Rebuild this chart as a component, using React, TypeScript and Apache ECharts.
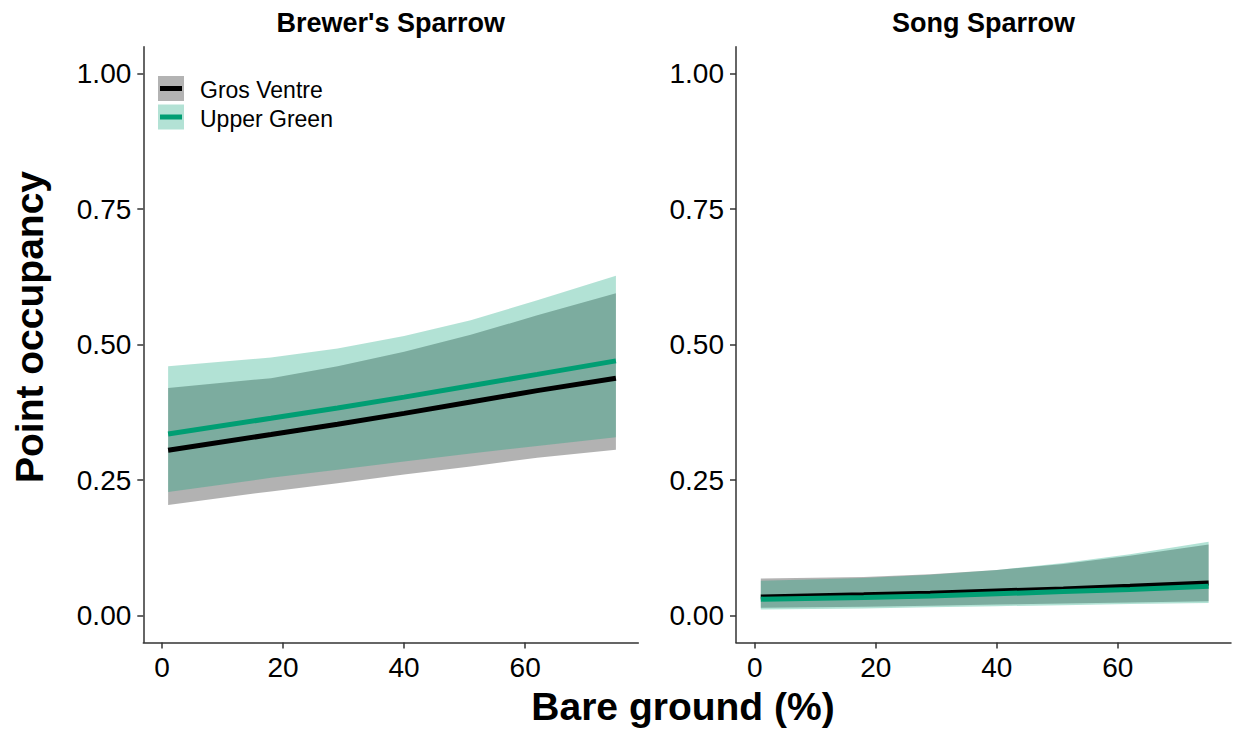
import React, { useEffect, useRef } from "react";
import * as echarts from "echarts";

// Bare ground (%) at which predictions are drawn
const BARE = [1, 18, 29, 40, 51, 62, 75];

// Brewer's Sparrow: predicted point occupancy with 95% intervals
const BRSP_GV_FIT = [0.305, 0.334, 0.353, 0.373, 0.394, 0.415, 0.438];
const BRSP_GV_LO = [0.204, 0.229, 0.244, 0.26, 0.275, 0.291, 0.306];
const BRSP_GV_HI = [0.42, 0.438, 0.46, 0.487, 0.518, 0.554, 0.595];
const BRSP_UG_FIT = [0.335, 0.364, 0.383, 0.403, 0.424, 0.445, 0.47];
const BRSP_UG_LO = [0.228, 0.254, 0.269, 0.284, 0.299, 0.313, 0.329];
const BRSP_UG_HI = [0.46, 0.476, 0.493, 0.516, 0.545, 0.582, 0.627];

// Song Sparrow
const SOSP_GV_FIT = [0.034, 0.038, 0.041, 0.045, 0.049, 0.054, 0.06];
const SOSP_GV_LO = [0.014, 0.016, 0.018, 0.02, 0.022, 0.024, 0.026];
const SOSP_GV_HI = [0.068, 0.071, 0.076, 0.084, 0.095, 0.11, 0.131];
const SOSP_UG_FIT = [0.03, 0.033, 0.036, 0.04, 0.044, 0.048, 0.054];
const SOSP_UG_LO = [0.011, 0.013, 0.015, 0.017, 0.019, 0.021, 0.023];
const SOSP_UG_HI = [0.064, 0.069, 0.075, 0.084, 0.097, 0.113, 0.136];

const X_TICKS = [0, 20, 40, 60];
const Y_TICKS = [0, 0.25, 0.5, 0.75, 1];
const PANELS = ["Brewer's Sparrow", "Song Sparrow"];
const SITES = ["Gros Ventre", "Upper Green"];

const FONT = "'Liberation Sans', Arial, Helvetica, sans-serif";
const GV_FILL = "rgba(0,0,0,0.3)";
const UG_FILL = "rgba(0,158,115,0.3)";
const GV_LINE = "#000000";
const UG_LINE = "#009E73";
const AXIS_COLOR = "#333333";

// Confidence ribbon drawn as one polygon through the axis scales
function band(idx: number, lo: number[], hi: number[], fill: string, z: number) {
  const data = BARE.map((x, i) => [x, lo[i], hi[i]]);
  return {
    type: "custom",
    xAxisIndex: idx,
    yAxisIndex: idx,
    silent: true,
    z,
    data,
    encode: { x: 0, y: [1, 2] },
    renderItem: (params: any, api: any) => {
      if (params.dataIndex !== 0) return null;
      const upper = data.map((d) => api.coord([d[0], d[2]]));
      const lower = data.map((d) => api.coord([d[0], d[1]])).reverse();
      return {
        type: "polygon",
        shape: { points: upper.concat(lower) },
        style: { fill },
      };
    },
  };
}

function line(idx: number, fit: number[], color: string, z: number) {
  return {
    type: "line",
    xAxisIndex: idx,
    yAxisIndex: idx,
    silent: true,
    z,
    showSymbol: false,
    data: BARE.map((x, i) => [x, fit[i]]),
    lineStyle: { color, width: 5 },
  };
}

function xAxis(idx: number) {
  return {
    type: "value",
    gridIndex: idx,
    min: -3.1,
    max: 78.7,
    splitLine: { show: false },
    axisLine: { show: true, onZero: false, lineStyle: { color: AXIS_COLOR, width: 1.5 } },
    axisTick: { show: true, customValues: X_TICKS, length: 6, lineStyle: { color: AXIS_COLOR, width: 1.5 } },
    axisLabel: {
      customValues: X_TICKS,
      margin: 11,
      color: "#000",
      fontSize: 28,
      fontFamily: FONT,
    },
  };
}

function yAxis(idx: number) {
  return {
    type: "value",
    gridIndex: idx,
    min: -0.05,
    max: 1.05,
    splitLine: { show: false },
    axisLine: { show: true, onZero: false, lineStyle: { color: AXIS_COLOR, width: 1.5 } },
    axisTick: { show: true, customValues: Y_TICKS, length: 6, lineStyle: { color: AXIS_COLOR, width: 1.5 } },
    axisLabel: {
      customValues: Y_TICKS,
      margin: 12,
      color: "#000",
      fontSize: 28,
      fontFamily: FONT,
      formatter: (v: number) => v.toFixed(2),
    },
  };
}

function legendKey(y: number, fill: string, stroke: string, label: string) {
  return [
    { type: "rect", shape: { x: 158, y, width: 26, height: 25 }, style: { fill } },
    {
      type: "line",
      shape: { x1: 160, y1: y + 12.5, x2: 182, y2: y + 12.5 },
      style: { stroke, lineWidth: 5 },
    },
    {
      type: "text",
      x: 200,
      y: y + 14,
      style: {
        text: label,
        fill: "#000",
        font: `23px ${FONT}`,
        textAlign: "left",
        textVerticalAlign: "middle",
      },
    },
  ];
}

export default function App() {
  const ref = useRef<HTMLDivElement>(null);

  useEffect(() => {
    if (!ref.current) return;
    const chart = echarts.init(ref.current, null, { renderer: "svg" });

    const gridW = 495;
    const gridH = 595.8;
    const lefts = [143.3, 736];

    const option: any = {
      animation: false,
      backgroundColor: "#ffffff",
      textStyle: { fontFamily: FONT },
      grid: lefts.map((l) => ({ left: l, top: 46.7, width: gridW, height: gridH })),
      xAxis: [xAxis(0), xAxis(1)],
      yAxis: [yAxis(0), yAxis(1)],
      series: [
        band(0, BRSP_GV_LO, BRSP_GV_HI, GV_FILL, 1),
        band(0, BRSP_UG_LO, BRSP_UG_HI, UG_FILL, 2),
        line(0, BRSP_GV_FIT, GV_LINE, 3),
        line(0, BRSP_UG_FIT, UG_LINE, 4),
        band(1, SOSP_GV_LO, SOSP_GV_HI, GV_FILL, 1),
        band(1, SOSP_UG_LO, SOSP_UG_HI, UG_FILL, 2),
        line(1, SOSP_GV_FIT, GV_LINE, 3),
        line(1, SOSP_UG_FIT, UG_LINE, 4),
      ],
      graphic: [
        ...PANELS.map((t, i) => ({
          type: "text",
          x: lefts[i] + gridW / 2,
          y: 23,
          style: {
            text: t,
            fill: "#000",
            font: `bold 27px ${FONT}`,
            textAlign: "center",
            textVerticalAlign: "middle",
          },
        })),
        {
          type: "text",
          x: 29,
          y: 327,
          rotation: Math.PI / 2,
          style: {
            text: "Point occupancy",
            fill: "#000",
            font: `bold 39px ${FONT}`,
            textAlign: "center",
            textVerticalAlign: "middle",
          },
        },
        {
          type: "text",
          x: 683,
          y: 706,
          style: {
            text: "Bare ground (%)",
            fill: "#000",
            font: `bold 39px ${FONT}`,
            textAlign: "center",
            textVerticalAlign: "middle",
          },
        },
        ...legendKey(76, "#b3b3b3", GV_LINE, SITES[0]),
        ...legendKey(104.5, "#b3e2d5", UG_LINE, SITES[1]),
      ],
    };

    chart.setOption(option);
    return () => chart.dispose();
  }, []);

  return (
    <div
      ref={ref}
      style={{ position: "absolute", left: 0, top: 0, width: 1236, height: 733 }}
    />
  );
}
